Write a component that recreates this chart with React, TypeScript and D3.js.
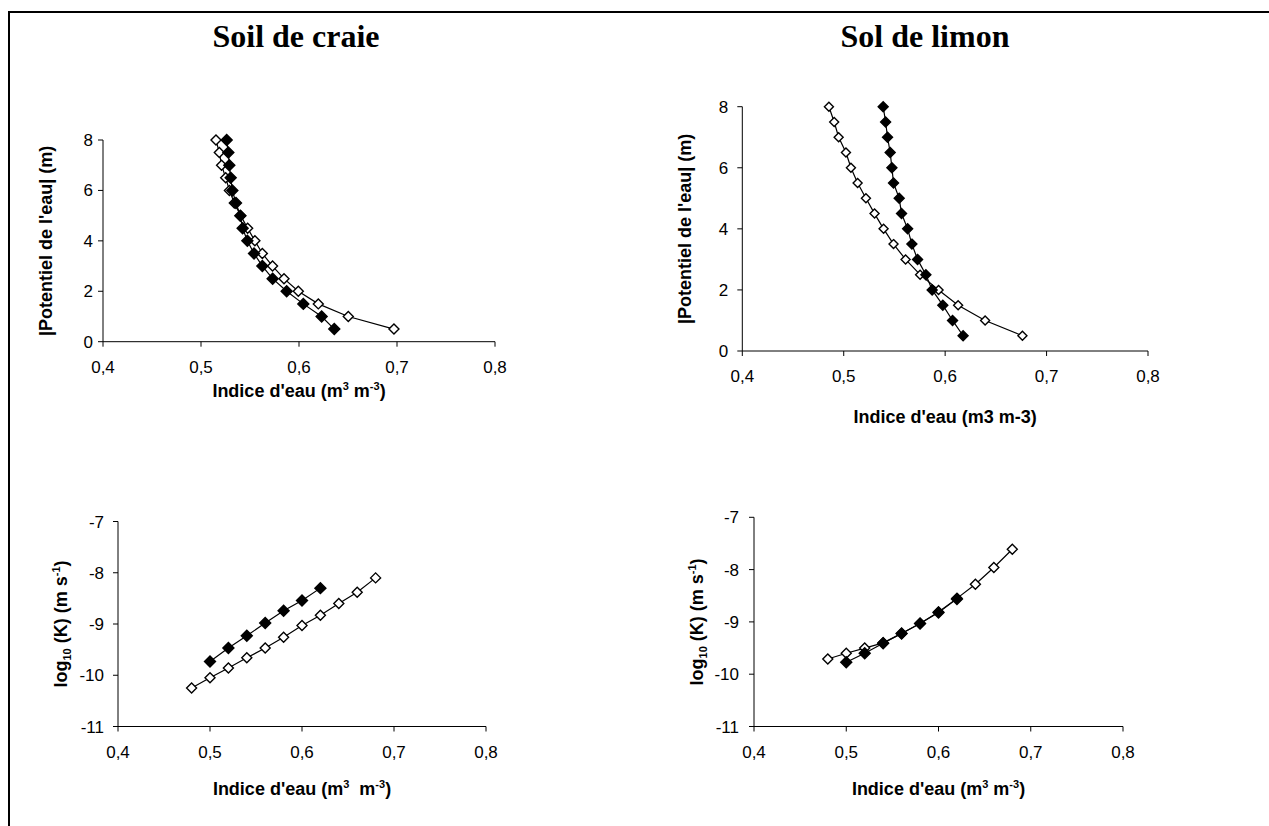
import React from "react";
import * as d3 from "d3";

// ---------- DATA ----------
const xTickValues = [0.4, 0.5, 0.6, 0.7, 0.8];
const xTickLabels = ["0,4", "0,5", "0,6", "0,7", "0,8"];
const psiTicks = [0, 2, 4, 6, 8];
const logKTicks = [-11, -10, -9, -8, -7];

const psiLevels = [8, 7.5, 7, 6.5, 6, 5.5, 5, 4.5, 4, 3.5, 3, 2.5, 2, 1.5, 1, 0.5];

const craieThetaOpen = [0.5153, 0.5187, 0.521, 0.5252, 0.529, 0.534, 0.5405, 0.5476, 0.555, 0.5626, 0.573, 0.5847, 0.5993, 0.6197, 0.6503, 0.6969];
const craieThetaFilled = [0.5262, 0.5279, 0.5289, 0.5303, 0.532, 0.5357, 0.5401, 0.5425, 0.5473, 0.5541, 0.5626, 0.5731, 0.5874, 0.6044, 0.6231, 0.636];

const limonThetaOpen = [0.4854, 0.4906, 0.495, 0.5022, 0.5071, 0.5137, 0.5219, 0.5304, 0.5393, 0.5491, 0.561, 0.5753, 0.5935, 0.6128, 0.6394, 0.6762];
const limonThetaFilled = [0.5389, 0.5413, 0.5432, 0.5458, 0.5475, 0.5491, 0.5547, 0.557, 0.563, 0.5672, 0.5728, 0.581, 0.5872, 0.5977, 0.6073, 0.6177];

const thetaOpenK = [0.48, 0.5, 0.52, 0.54, 0.56, 0.58, 0.6, 0.62, 0.64, 0.66, 0.68];
const thetaFilledK = [0.5, 0.52, 0.54, 0.56, 0.58, 0.6, 0.62];

const craieLogKOpen = [-10.25, -10.05, -9.86, -9.66, -9.47, -9.26, -9.03, -8.83, -8.6, -8.38, -8.1];
const craieLogKFilled = [-9.73, -9.47, -9.23, -8.98, -8.74, -8.54, -8.3];

const limonLogKOpen = [-9.71, -9.6, -9.5, -9.4, -9.22, -9.03, -8.81, -8.55, -8.28, -7.96, -7.61];
const limonLogKFilled = [-9.77, -9.6, -9.41, -9.22, -9.03, -8.82, -8.56];

const panelTitles = ["Soil de craie", "Sol de limon"];

// ---------- LAYOUT ----------
type Series = { xs: number[]; ys: number[]; filled: boolean };
type Panel = {
  left: number; right: number; top: number; bottom: number;
  yDomain: [number, number]; yTicks: number[];
  series: Series[];
  yTitle: "psi" | "logk";
  xTitle: "sup" | "sup2" | "plain";
  xTitleOffset: number;
  yLabelGap: number;
  r: number;
};

const panels: Panel[] = [
  {
    left: 103, right: 495, top: 140, bottom: 341.7,
    yDomain: [0, 8], yTicks: psiTicks,
    series: [
      { xs: craieThetaOpen, ys: psiLevels, filled: false },
      { xs: craieThetaFilled, ys: psiLevels, filled: true },
    ],
    yTitle: "psi", xTitle: "sup", xTitleOffset: 49, yLabelGap: 10, r: 5,
  },
  {
    left: 742.3, right: 1148, top: 106.7, bottom: 351,
    yDomain: [0, 8], yTicks: psiTicks,
    series: [
      { xs: limonThetaOpen, ys: psiLevels, filled: false },
      { xs: limonThetaFilled, ys: psiLevels, filled: true },
    ],
    yTitle: "psi", xTitle: "plain", xTitleOffset: 66, yLabelGap: 14, r: 4.5,
  },
  {
    left: 118, right: 486, top: 521.5, bottom: 726.5,
    yDomain: [-11, -7], yTicks: logKTicks,
    series: [
      { xs: thetaOpenK, ys: craieLogKOpen, filled: false },
      { xs: thetaFilledK, ys: craieLogKFilled, filled: true },
    ],
    yTitle: "logk", xTitle: "sup2", xTitleOffset: 62, yLabelGap: 14, r: 5,
  },
  {
    left: 754, right: 1123, top: 517.3, bottom: 726.5,
    yDomain: [-11, -7], yTicks: logKTicks,
    series: [
      { xs: thetaOpenK, ys: limonLogKOpen, filled: false },
      { xs: thetaFilledK, ys: limonLogKFilled, filled: true },
    ],
    yTitle: "logk", xTitle: "sup", xTitleOffset: 62, yLabelGap: 15, r: 5,
  },
];

const sans = "'Liberation Sans', Arial, sans-serif";
const serif = "'Liberation Serif', 'Times New Roman', serif";

function diamond(r: number) {
  return `M0,${-r}L${r},0L0,${r}L${-r},0Z`;
}

function XTitle({ kind }: { kind: Panel["xTitle"] }) {
  if (kind === "plain") return <>Indice d'eau (m3 m-3)</>;
  const gap = kind === "sup2" ? "\u00a0 " : " ";
  return (
    <>
      Indice d'eau (m
      <tspan fontSize="11" dy="-7">3</tspan>
      <tspan dy="7">{gap}m</tspan>
      <tspan fontSize="11" dy="-7">-3</tspan>
      <tspan dy="7">)</tspan>
    </>
  );
}

function YTitle({ kind }: { kind: Panel["yTitle"] }) {
  if (kind === "psi") return <>|Potentiel de l'eau| (m)</>;
  return (
    <>
      log
      <tspan fontSize="11" dy="4">10</tspan>
      <tspan dy="-4"> (K) (m s</tspan>
      <tspan fontSize="11" dy="-7">-1</tspan>
      <tspan dy="7">)</tspan>
    </>
  );
}

function PanelView({ p }: { p: Panel }) {
  const x = d3.scaleLinear().domain([0.4, 0.8]).range([p.left, p.right]);
  const y = d3.scaleLinear().domain(p.yDomain).range([p.bottom, p.top]);
  const line = d3.line<[number, number]>().x((d) => x(d[0])).y((d) => y(d[1]));
  const axisColor = "#000";
  const cx = (p.left + p.right) / 2;
  const cy = (p.top + p.bottom) / 2;
  return (
    <g>
      <line x1={p.left} x2={p.right} y1={p.bottom} y2={p.bottom} stroke={axisColor} strokeWidth={1} />
      <line x1={p.left} x2={p.left} y1={p.top} y2={p.bottom} stroke={axisColor} strokeWidth={1} />
      {xTickValues.map((v, i) => (
        <g key={"xt" + i}>
          <line x1={x(v)} x2={x(v)} y1={p.bottom} y2={p.bottom + 5} stroke={axisColor} />
          <text x={x(v)} y={p.bottom + 31} textAnchor="middle" fontFamily={sans} fontSize={17} fill="#000">
            {xTickLabels[i]}
          </text>
        </g>
      ))}
      {p.yTicks.map((v, i) => (
        <g key={"yt" + i}>
          <line x1={p.left - 5} x2={p.left} y1={y(v)} y2={y(v)} stroke={axisColor} />
          <text x={p.left - p.yLabelGap} y={y(v) + 6} textAnchor="end" fontFamily={sans} fontSize={17} fill="#000">
            {v}
          </text>
        </g>
      ))}
      {p.series.map((s, si) => (
        <path
          key={"l" + si}
          d={line(s.xs.map((xv, i) => [xv, s.ys[i]] as [number, number])) || ""}
          fill="none"
          stroke="#000"
          strokeWidth={1.2}
        />
      ))}
      {p.series.map((s, si) =>
        s.xs.map((xv, i) => (
          <path
            key={"m" + si + "-" + i}
            d={diamond(s.filled ? p.r + 0.5 : p.r)}
            transform={`translate(${x(xv)},${y(s.ys[i])})`}
            fill={s.filled ? "#000" : "#fff"}
            stroke="#000"
            strokeWidth={1.4}
          />
        ))
      )}
      <text x={cx} y={p.bottom + p.xTitleOffset + 6} textAnchor="middle" fontFamily={sans} fontWeight="bold" fontSize={18} fill="#000">
        <XTitle kind={p.xTitle} />
      </text>
      <text
        transform={`translate(${p.left - 51},${cy}) rotate(-90)`}
        textAnchor="middle"
        fontFamily={sans}
        fontWeight="bold"
        fontSize={18}
        fill="#000"
      >
        <YTitle kind={p.yTitle} />
      </text>
    </g>
  );
}

export default function App() {
  return (
    <svg
      width={1269}
      height={826}
      style={{ position: "absolute", left: 0, top: 0, background: "#fff" }}
    >
      <rect x={0} y={0} width={1269} height={826} fill="#fff" />
      <line x1={9} x2={1269} y1={12} y2={12} stroke="#000" strokeWidth={2} />
      <line x1={9} x2={9} y1={11} y2={826} stroke="#000" strokeWidth={2} />
      <text x={296} y={47} textAnchor="middle" fontFamily={serif} fontWeight="bold" fontSize={32} fill="#000">
        {panelTitles[0]}
      </text>
      <text x={925} y={47} textAnchor="middle" fontFamily={serif} fontWeight="bold" fontSize={32} fill="#000">
        {panelTitles[1]}
      </text>
      {panels.map((p, i) => (
        <PanelView key={i} p={p} />
      ))}
    </svg>
  );
}
